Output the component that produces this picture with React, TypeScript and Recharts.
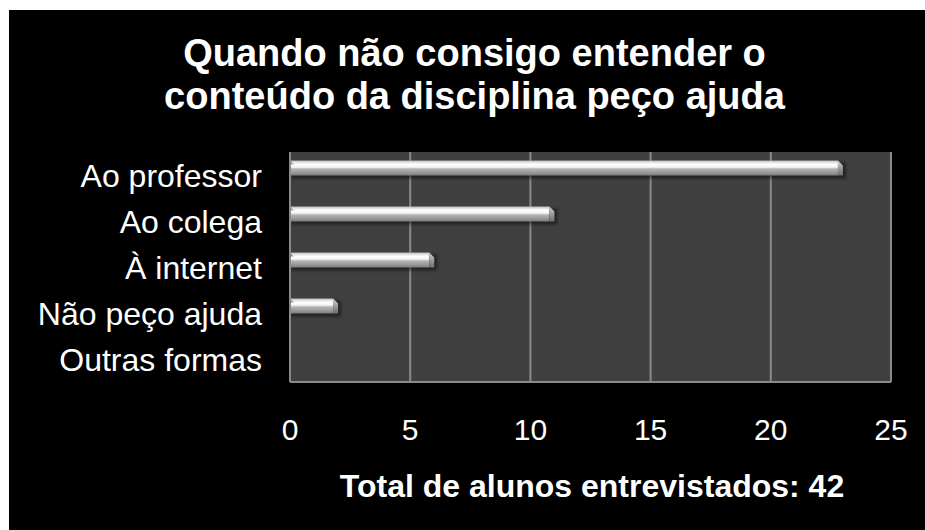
import React from 'react';
import { BarChart, Bar, XAxis, YAxis, CartesianGrid } from 'recharts';

const categories = ['Ao professor', 'Ao colega', 'À internet', 'Não peço ajuda', 'Outras formas'];
const alunos = [23, 11, 6, 2, 0];
const xTicks = [0, 5, 10, 15, 20, 25];
const titleLines = ['Quando não consigo entender o', 'conteúdo da disciplina peço ajuda'];
const footer = 'Total de alunos entrevistados: 42';

const data = categories.map((name, i) => ({ name, value: alunos[i] }));

const FONT = '"Liberation Sans", Arial, sans-serif';
const W = 916;
const H = 520;

// glossy bar with bevelled right end, sitting in the upper part of its band
const GlossBar = (props: any) => {
  const { x, y, width, height } = props;
  if (!width || width <= 0) return null;
  const top = y - 7.5;
  const c = 5;
  const w = width;
  return (
    <g>
      <rect x={x + 1} y={top + 2} width={w + 2} height={height + 1} fill="#000" opacity={0.45} filter="url(#barShadow)" />
      <rect x={x} y={top} width={w - c} height={height} fill="url(#barGrad)" />
      <polygon
        points={`${x + w - c},${top} ${x + w},${top + c} ${x + w},${top + height} ${x + w - c},${top + height}`}
        fill="url(#capGrad)"
      />
      <polygon points={`${x},${top} ${x + 4},${top + 4} ${x},${top + 4}`} fill="#9a9a9a" />
    </g>
  );
};

const YTick = (props: any) => {
  const { x, y, payload } = props;
  return (
    <text x={x - 28} y={y} dy="0.36em" textAnchor="end" fill="#fff" fontSize={32} fontFamily={FONT}>
      {payload.value}
    </text>
  );
};

const XTick = (props: any) => {
  const { x, y, payload } = props;
  return (
    <text x={x} y={y + 58} textAnchor="middle" fill="#fff" fontSize={30} fontFamily={FONT}>
      {payload.value}
    </text>
  );
};

export default function App() {
  return (
    <div style={{ position: 'absolute', left: 9, top: 10, width: W, height: H, background: '#000' }}>
      <BarChart
        width={W}
        height={H}
        data={data}
        layout="vertical"
        margin={{ top: 142, right: 34, bottom: 88, left: 0 }}
        barSize={15}
      >
        <defs>
          <linearGradient id="barGrad" x1="0" y1="0" x2="0" y2="1">
            <stop offset="0" stopColor="#b8b8b8" />
            <stop offset="0.13" stopColor="#e4e4e4" />
            <stop offset="0.27" stopColor="#ffffff" />
            <stop offset="0.45" stopColor="#f2f2f2" />
            <stop offset="0.56" stopColor="#b4b4b4" />
            <stop offset="0.78" stopColor="#9c9c9c" />
            <stop offset="1" stopColor="#7c7c7c" />
          </linearGradient>
          <linearGradient id="capGrad" x1="0" y1="0" x2="0" y2="1">
            <stop offset="0" stopColor="#d8d8d8" />
            <stop offset="0.4" stopColor="#a6a6a6" />
            <stop offset="1" stopColor="#6e6e6e" />
          </linearGradient>
          <filter id="barShadow" x="-5%" y="-50%" width="110%" height="200%">
            <feGaussianBlur stdDeviation="1.5" />
          </filter>
        </defs>
        <CartesianGrid horizontal={false} stroke="#8a8a8a" strokeWidth={2} fill="#404040" />
        <XAxis
          type="number"
          domain={[0, 25]}
          ticks={xTicks}
          height={60}
          tickSize={0}
          tickMargin={0}
          tick={<XTick />}
          axisLine={{ stroke: '#8a8a8a', strokeWidth: 2 }}
          tickLine={false}
        />
        <YAxis
          type="category"
          dataKey="name"
          width={281}
          tickSize={0}
          tickMargin={0}
          tick={<YTick />}
          axisLine={{ stroke: '#8a8a8a', strokeWidth: 2 }}
          tickLine={false}
          interval={0}
        />
        <Bar dataKey="value" shape={<GlossBar />} isAnimationActive={false} />
      </BarChart>
      <svg width={W} height={H} style={{ position: 'absolute', left: 0, top: 0, pointerEvents: 'none' }}>
        <text x={465.5} y={56} textAnchor="middle" fill="#fff" fontSize={38} fontWeight="bold" fontFamily={FONT}>
          {titleLines[0]}
        </text>
        <text x={465.5} y={99} textAnchor="middle" fill="#fff" fontSize={38} fontWeight="bold" fontFamily={FONT}>
          {titleLines[1]}
        </text>
        <text x={583} y={487} textAnchor="middle" fill="#fff" fontSize={32} fontWeight="bold" fontFamily={FONT}>
          {footer}
        </text>
      </svg>
    </div>
  );
}
